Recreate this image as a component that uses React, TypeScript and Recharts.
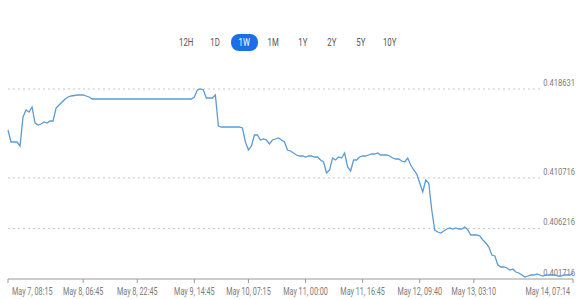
import { Line, LineChart, ReferenceLine, XAxis, YAxis } from 'recharts';

// time range buttons
const RANGES = ['12H', '1D', '1W', '1M', '1Y', '2Y', '5Y', '10Y'];
const ACTIVE_RANGE = '1W';

// price samples, oldest first (May 7 08:15 -> May 14 07:14)
const PRICES = [
  0.41498, 0.413912, 0.413912, 0.413912, 0.413556, 0.416138, 0.416761, 0.416583, 0.417028, 0.415604,
  0.415426, 0.415515, 0.415693, 0.415604, 0.415782, 0.415782, 0.416939, 0.417206, 0.417473, 0.41774,
  0.417918, 0.418007, 0.418052, 0.418096, 0.418096, 0.418096, 0.418007, 0.417918, 0.41774, 0.41774,
  0.41774, 0.41774, 0.41774, 0.41774, 0.41774, 0.41774, 0.41774, 0.41774, 0.41774, 0.41774,
  0.41774, 0.41774, 0.41774, 0.41774, 0.41774, 0.41774, 0.41774, 0.41774, 0.41774, 0.41774,
  0.41774, 0.41774, 0.41774, 0.41774, 0.41774, 0.41774, 0.41774, 0.41774, 0.41774, 0.41774,
  0.41774, 0.41774, 0.417918, 0.418541, 0.418631, 0.418541, 0.417829, 0.417829, 0.417829, 0.418096,
  0.415336, 0.415248, 0.415248, 0.415248, 0.415248, 0.415248, 0.415248, 0.415248, 0.415159, 0.413912,
  0.4132, 0.413556, 0.414535, 0.414535, 0.41409, 0.414179, 0.41409, 0.413734, 0.41409, 0.414179,
  0.414268, 0.41409, 0.413912, 0.4132, 0.413111, 0.412933, 0.412755, 0.412666, 0.412666, 0.412577,
  0.412666, 0.412666, 0.412577, 0.412577, 0.41231, 0.412132, 0.411153, 0.41142, 0.412488, 0.41231,
  0.412577, 0.412488, 0.412933, 0.411687, 0.411331, 0.41231, 0.41231, 0.412577, 0.412666, 0.412666,
  0.412755, 0.412844, 0.412844, 0.412933, 0.412755, 0.412755, 0.412755, 0.412666, 0.412488, 0.412399,
  0.412399, 0.412221, 0.412132, 0.412488, 0.411865, 0.41142, 0.411063, 0.410262, 0.409461, 0.410529,
  0.410262, 0.407859, 0.406078, 0.4059, 0.405811, 0.405989, 0.406167, 0.406256, 0.406167, 0.406256,
  0.406167, 0.406167, 0.406345, 0.406078, 0.405633, 0.405633, 0.405633, 0.405544, 0.405188, 0.404921,
  0.404565, 0.403853, 0.403764, 0.402962, 0.402784, 0.402784, 0.402695, 0.402517, 0.402606, 0.402339,
  0.40225, 0.402072, 0.401894, 0.401983, 0.402072, 0.402072, 0.402161, 0.402072, 0.401983, 0.402072,
  0.402072, 0.402072, 0.402072, 0.401983, 0.401983, 0.402072, 0.402072, 0.402072, 0.40225,
];

// sample index of each x tick and its label
const X_TICKS = [0, 25, 43, 62, 80, 99, 118, 137, 155, 188];
const X_LABELS = [
  'May 7, 08:15',
  'May 8, 06:45',
  'May 8, 22:45',
  'May 9, 14:45',
  'May 10, 07:15',
  'May 11, 00:00',
  'May 11, 16:45',
  'May 12, 09:40',
  'May 13, 03:10',
  'May 14, 07:14',
];

const Y_TICKS = [0.401716, 0.406216, 0.410716, 0.418631];
const Y_DOMAIN = [0.401716, 0.420322];
const GRID_END = 177;

const LINE_COLOR = '#5b9bd3';
const TEXT_COLOR = '#7a7a7a';
const FONT = 'Roboto, Arial, sans-serif';

const data = PRICES.map((price, i) => ({ i, price }));

function XTick(props: any) {
  const { x, payload } = props;
  const idx = X_TICKS.indexOf(payload.value);
  const last = idx === X_TICKS.length - 1;
  const anchor = idx === 0 ? 'start' : last ? 'end' : 'middle';
  const tx = idx === 0 ? x + 4 : last ? x - 3 : x;
  return (
    <g>
      <line x1={x} x2={x} y1={279} y2={283} stroke="#999" />
      <text
        transform={`translate(${tx},295) scale(0.72,1)`}
        textAnchor={anchor}
        fontSize={10}
        fontFamily={FONT}
        fill={TEXT_COLOR}
      >
        {X_LABELS[idx]}
      </text>
    </g>
  );
}

// price label sitting just above the right end of each level
function PriceLabel(props: any) {
  const { viewBox, value } = props;
  const right = viewBox.x + viewBox.width + 2;
  return (
    <text
      transform={`translate(${right},${viewBox.y - 3}) scale(0.8,1)`}
      textAnchor="end"
      fontSize={9.5}
      fontFamily={FONT}
      fill={TEXT_COLOR}
    >
      {value}
    </text>
  );
}

export default function App() {
  return (
    <div
      style={{
        position: 'absolute',
        left: 0,
        top: 0,
        width: 576,
        height: 299,
        background: '#fff',
        fontFamily: FONT,
      }}
    >
      <div
        style={{
          position: 'absolute',
          top: 34,
          left: 0,
          width: 576,
          display: 'flex',
          justifyContent: 'center',
          gap: 2,
        }}
      >
        {RANGES.map((r) => (
          <div
            key={r}
            style={{
              width: 27,
              height: 17,
              borderRadius: 8,
              background: r === ACTIVE_RANGE ? '#1a6fe6' : 'transparent',
              color: r === ACTIVE_RANGE ? '#fff' : '#555',
              fontSize: 10,
              lineHeight: '17px',
              textAlign: 'center',
            }}
          >
            <span style={{ display: 'inline-block', transform: 'scaleX(0.78)' }}>{r}</span>
          </div>
        ))}
      </div>
      <div style={{ position: 'absolute', left: 0, top: 0 }}>
        <LineChart
          width={576}
          height={299}
          data={data}
          margin={{ top: 70, right: 3, left: 8, bottom: 0 }}
        >
          <XAxis
            dataKey="i"
            type="number"
            domain={[0, PRICES.length - 1]}
            ticks={X_TICKS}
            interval={0}
            height={20}
            tick={<XTick />}
            tickLine={false}
            axisLine={{ stroke: '#999' }}
          />
          <YAxis type="number" domain={Y_DOMAIN} hide allowDataOverflow />
          {Y_TICKS.slice(1).map((v) => (
            <ReferenceLine
              key={v}
              segment={[
                { x: 0, y: v },
                { x: GRID_END, y: v },
              ]}
              stroke="#c8c8c8"
              strokeDasharray="2 3"
            />
          ))}
          {Y_TICKS.map((v) => (
            <ReferenceLine
              key={`l${v}`}
              y={v}
              stroke="none"
              label={<PriceLabel value={v.toFixed(6)} />}
            />
          ))}
          <Line
            type="linear"
            dataKey="price"
            stroke={LINE_COLOR}
            strokeWidth={1.3}
            dot={false}
            isAnimationActive={false}
          />
        </LineChart>
      </div>
    </div>
  );
}
